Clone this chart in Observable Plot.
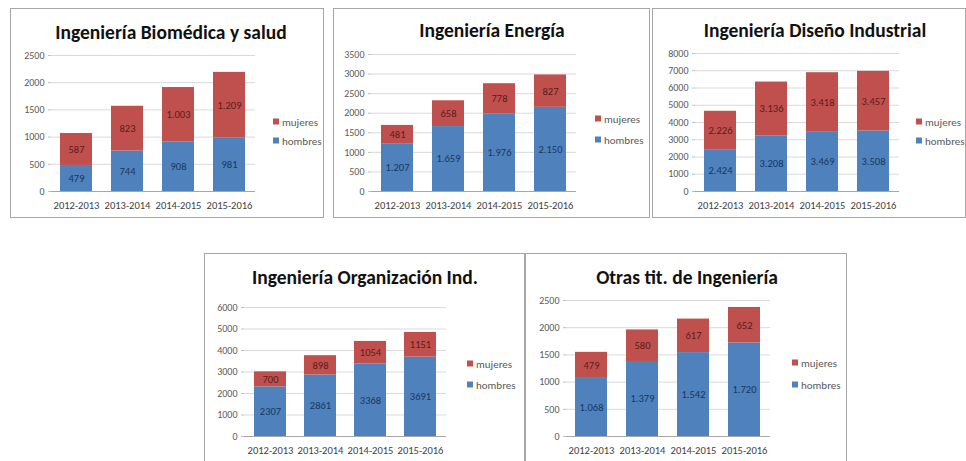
<!DOCTYPE html>
<html><head><meta charset="utf-8">
<script src="https://cdn.jsdelivr.net/npm/d3@7"></script>
<script src="https://cdn.jsdelivr.net/npm/@observablehq/plot@0.6"></script>
<style>
body{margin:0;background:#fff;font-family:Carlito,Calibri,Lato,sans-serif;}
#root{position:relative;width:966px;height:461px;overflow:hidden;background:#fff;}
.panel{position:absolute;box-sizing:border-box;border:1.5px solid #a6a6a6;}
.title{position:absolute;transform:translate(-50%,-50%);font-weight:bold;font-size:19.5px;color:#111;white-space:nowrap;}
.leg{position:absolute;font-size:11px;color:#595959;white-space:nowrap;transform:translateY(-50%);line-height:11px;}
.leg i{display:inline-block;width:6px;height:6px;margin-right:3px;vertical-align:1px;}
</style></head><body><div id="root"></div><script>
// ---------- data ----------
const years = ["2012-2013","2013-2014","2014-2015","2015-2016"];
const seriesNames = ["hombres","mujeres"];
const titles = ["Ingeniería Biomédica y salud","Ingeniería Energía","Ingeniería Diseño Industrial","Ingeniería Organización Ind.","Otras tit. de Ingeniería"];
const biomedicaHombres = [479, 744, 908, 981];
const biomedicaMujeres = [587, 823, 1003, 1209];
const energiaHombres = [1207, 1659, 1976, 2150];
const energiaMujeres = [481, 658, 778, 827];
const disenoHombres = [2424, 3208, 3469, 3508];
const disenoMujeres = [2226, 3136, 3418, 3457];
const organizacionHombres = [2307, 2861, 3368, 3691];
const organizacionMujeres = [700, 898, 1054, 1151];
const otrasHombres = [1068, 1379, 1542, 1720];
const otrasMujeres = [479, 580, 617, 652];
const yMaxima = [2500, 3500, 8000, 6000, 2500];
const yPasos = [500, 500, 1000, 1000, 500];
const separadorMiles = [true, true, true, false, true];

// ---------- styles / layout ----------
const barColor = {hombres: "#4f81bd", mujeres: "#c0504d"};
const labelColor = {hombres: "#17375e", mujeres: "#5a1c1a"};
const layout = [
  {box:[10,8,324,218],  plot:[51,55,255,191],  title:[171,32],  leg:[273,122,141]},
  {box:[333,8,650,218], plot:[371,54,576,191], title:[492,30],  leg:[595,119,140]},
  {box:[652,8,966,218], plot:[695,53,899,191], title:[815,30],  leg:[916,122,141]},
  {box:[204,253,525,468], plot:[244,307,446,436], title:[365,277], leg:[467,364,385]},
  {box:[525,253,847,468], plot:[566,300,770,436], title:[687,277], leg:[792,363,385]}
];

const panelData = [
  [biomedicaHombres, biomedicaMujeres],
  [energiaHombres, energiaMujeres],
  [disenoHombres, disenoMujeres],
  [organizacionHombres, organizacionMujeres],
  [otrasHombres, otrasMujeres]
];

const esLocale = d3.formatLocale({decimal: ",", thousands: ".", grouping: [3], currency: ["", ""]});
const fmtSep = esLocale.format(",d");
const fmtPlain = d3.format("d");

const root = document.getElementById("root");
const font = "Carlito,Calibri,Lato,sans-serif";

panelData.forEach((pair, i) => {
  const L = layout[i];
  const [bx0, by0, bx1, by1] = L.box;
  const [px0, py0, px1, py1] = L.plot;
  const rows = [];
  years.forEach((y, j) => {
    seriesNames.forEach((s, k) => rows.push({year: y, sex: s, value: pair[k][j]}));
  });
  const fmt = separadorMiles[i] ? fmtSep : fmtPlain;
  const ticks = d3.range(0, yMaxima[i] + 1, yPasos[i]);

  const border = document.createElement("div");
  border.className = "panel";
  Object.assign(border.style, {left: bx0 + "px", top: by0 + "px", width: (bx1 - bx0) + "px", height: (by1 - by0) + "px"});
  root.appendChild(border);

  const svg = Plot.plot({
    width: bx1 - bx0,
    height: by1 - by0,
    marginLeft: px0 - bx0,
    marginRight: bx1 - px1,
    marginTop: py0 - by0,
    marginBottom: by1 - py1,
    style: {fontFamily: font, fontSize: "10px", color: "#595959", background: "transparent", overflow: "visible"},
    x: {type: "band", domain: years, paddingInner: 0.37, paddingOuter: 0.185, label: null},
    y: {domain: [0, yMaxima[i]], label: null},
    color: {type: "identity"},
    marks: [
      Plot.ruleY(ticks, {stroke: "#d9d9d9", strokeWidth: 1}),
      Plot.barY(rows, Plot.stackY({x: "year", y: "value", fill: d => barColor[d.sex]})),
      Plot.text(rows, Plot.stackY({x: "year", y: "value", text: d => fmt(d.value), fill: d => labelColor[d.sex], fontSize: 10.5})),
      Plot.ruleY([0], {stroke: "#a6a6a6"}),
      Plot.axisX({tickSize: 0, tickPadding: 10, fill: "#404040", fontSize: 10.5}),
      Plot.axisY({ticks: ticks, tickFormat: fmtPlain, tickSize: 3, tickPadding: 4, stroke: "#bfbfbf", fill: "#595959", fontSize: 10}),
      Plot.ruleX([0], {x: () => null, frameAnchor: "left", stroke: "#bfbfbf"})
    ]
  });
  Object.assign(svg.style, {position: "absolute", left: bx0 + "px", top: by0 + "px"});
  root.appendChild(svg);

  const t = document.createElement("div");
  t.className = "title";
  t.textContent = titles[i];
  Object.assign(t.style, {left: L.title[0] + "px", top: L.title[1] + "px"});
  root.appendChild(t);

  ["mujeres", "hombres"].forEach((s, k) => {
    const lg = document.createElement("div");
    lg.className = "leg";
    lg.innerHTML = `<i style="background:${barColor[s]}"></i>${s}`;
    Object.assign(lg.style, {left: L.leg[0] + "px", top: L.leg[1 + k] + "px"});
    root.appendChild(lg);
  });
});
</script></body></html>
